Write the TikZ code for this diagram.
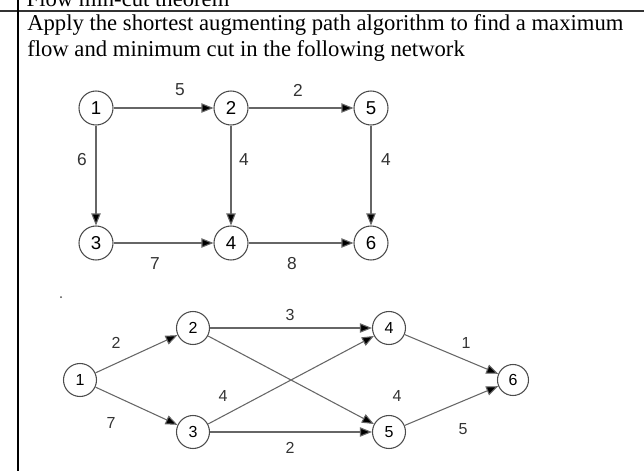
\documentclass[tikz,border=0pt]{standalone}
\usepackage{fontspec}
\setmainfont{Liberation Serif}
\setsansfont{Liberation Sans}
\usetikzlibrary{arrows.meta}
\begin{document}
\begin{tikzpicture}[x=0.75pt,y=-0.75pt,
  nd/.style={circle,draw=black!70,thick,minimum size=34*0.75pt,inner sep=0pt,font=\sffamily\fontsize{14}{14}\selectfont},
  ed/.style={draw=black!60,thick,-{Triangle[length=9pt,width=7pt,fill=black]}},
  lb/.style={font=\sffamily\fontsize{13}{13}\selectfont,text=black!80}]
\useasboundingbox (0,0) rectangle (644,471);
\begin{scope}
\clip (0,0) rectangle (644,9);
\node[anchor=base west,font=\fontsize{17}{17}\selectfont] (ttl) at (22,7) {Flow min-cut theorem};
\end{scope}
\draw[line width=1.2pt,black!80] (0,11) -- (644,11);
\draw[line width=1pt] (18,0) -- (18,471);
\node[anchor=base west,font=\fontsize{17}{17}\selectfont,inner sep=0pt] (t1) at (27,31) {Apply the shortest augmenting path algorithm to find a maximum};
\node[anchor=base west,font=\fontsize{17}{17}\selectfont,inner sep=0pt] (t2) at (27,56) {flow and minimum cut in the following network};
% graph 1
\node[nd] (a1) at (96,108) {1};
\node[nd] (a2) at (231,108) {2};
\node[nd] (a5) at (371,108) {5};
\node[nd] (a3) at (96,243) {3};
\node[nd] (a4) at (231,243) {4};
\node[nd] (a6) at (371,243) {6};
\draw[ed] (a1) -- (a2);
\draw[ed] (a2) -- (a5);
\draw[ed] (a1) -- (a3);
\draw[ed] (a2) -- (a4);
\draw[ed] (a5) -- (a6);
\draw[ed] (a3) -- (a4);
\draw[ed] (a4) -- (a6);
\node[lb] (l1) at (180,90) {5};
\node[lb] (l2) at (298,90) {2};
\node[lb] (l3) at (82,160) {6};
\node[lb] (l4) at (244,160) {4};
\node[lb] (l5) at (386,160) {4};
\node[lb] (l6) at (155,264) {7};
\node[lb] (l7) at (292,264) {8};
% graph 2
\fill[black!70] (61,297) circle (1);
\node[nd,minimum size=33*0.75pt,font=\sffamily\fontsize{12}{12}\selectfont] (b1) at (80,380) {1};
\node[nd,minimum size=33*0.75pt,font=\sffamily\fontsize{12}{12}\selectfont] (b2) at (193,328) {2};
\node[nd,minimum size=33*0.75pt,font=\sffamily\fontsize{12}{12}\selectfont] (b3) at (193,432) {3};
\node[nd,minimum size=33*0.75pt,font=\sffamily\fontsize{12}{12}\selectfont] (b4) at (389,328) {4};
\node[nd,minimum size=33*0.75pt,font=\sffamily\fontsize{12}{12}\selectfont] (b5) at (389,432) {5};
\node[nd,minimum size=31*0.75pt,font=\sffamily\fontsize{12}{12}\selectfont] (b6) at (513,380) {6};
\draw[ed] (b1) -- (b2);
\draw[ed] (b1) -- (b3);
\draw[ed] (b2) -- (b4);
\draw[ed] (b2) -- (b5);
\draw[ed] (b3) -- (b4);
\draw[ed] (b3) -- (b5);
\draw[ed] (b4) -- (b6);
\draw[ed] (b5) -- (b6);
\node[lb,font=\sffamily\fontsize{12}{12}\selectfont] (m1) at (116,343) {2};
\node[lb,font=\sffamily\fontsize{12}{12}\selectfont] (m2) at (111,423) {7};
\node[lb,font=\sffamily\fontsize{12}{12}\selectfont] (m3) at (290,315) {3};
\node[lb,font=\sffamily\fontsize{12}{12}\selectfont] (m4) at (223,396) {4};
\node[lb,font=\sffamily\fontsize{12}{12}\selectfont] (m5) at (397,396) {4};
\node[lb,font=\sffamily\fontsize{12}{12}\selectfont] (m6) at (466,343) {1};
\node[lb,font=\sffamily\fontsize{12}{12}\selectfont] (m7) at (463,429) {5};
\node[lb,font=\sffamily\fontsize{12}{12}\selectfont] (m8) at (290,448) {2};
\end{tikzpicture}
\end{document}
